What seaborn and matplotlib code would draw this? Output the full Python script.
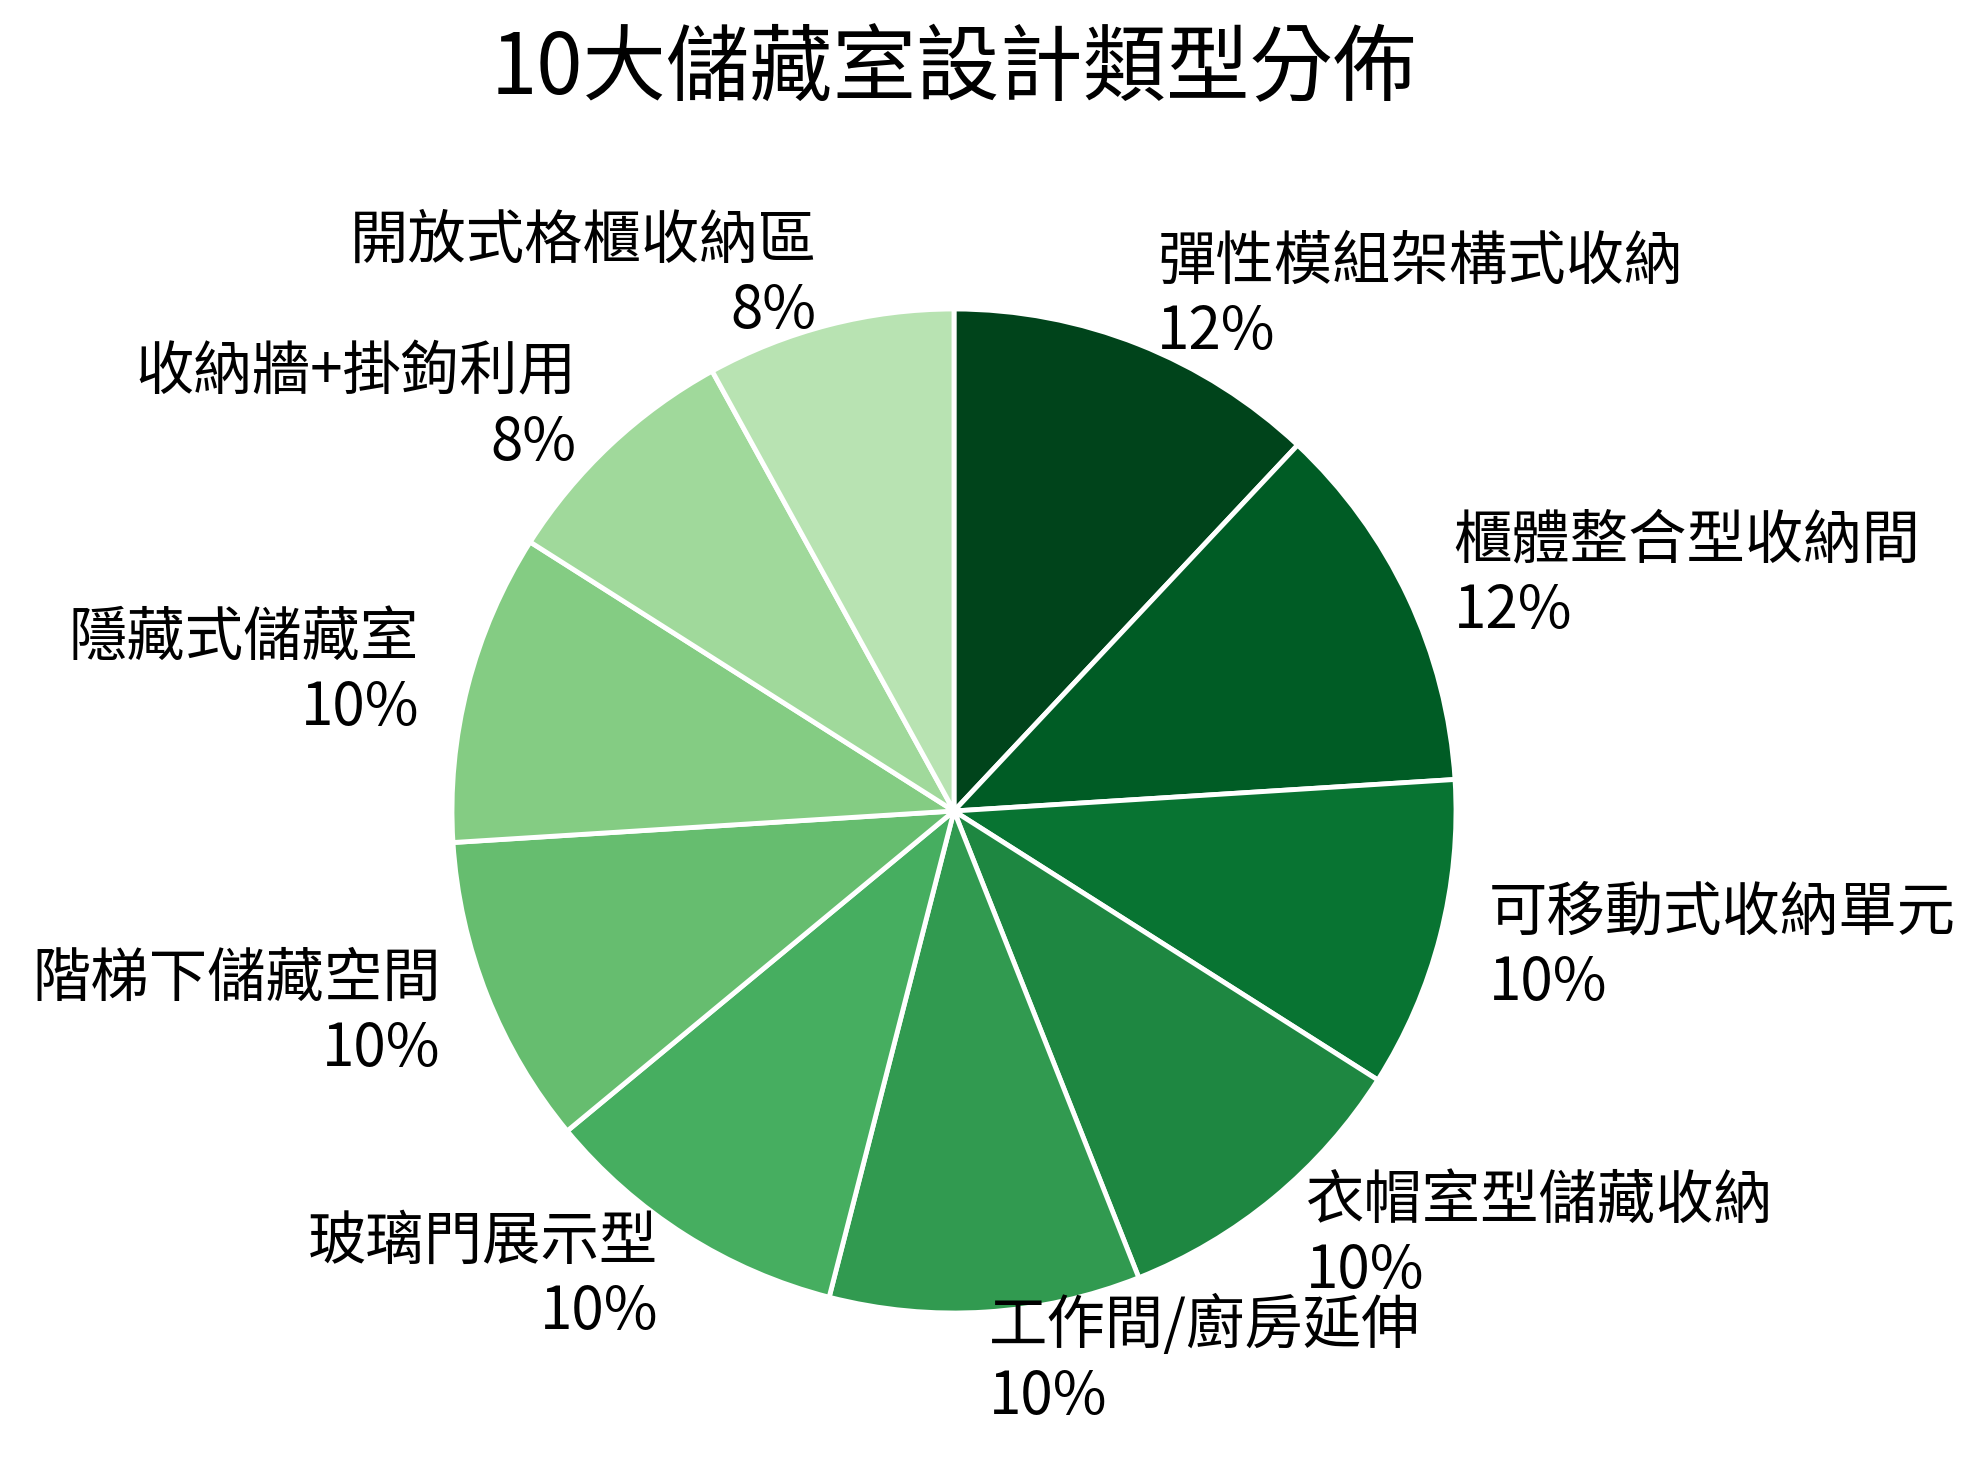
import matplotlib
matplotlib.use("Agg")
import matplotlib.pyplot as plt
import seaborn as sns
import numpy as np

sns.set_theme(style="white")
plt.rcParams['font.family'] = ['Noto Sans CJK TC', 'DejaVu Sans']

# 資料
categorias = [
    "彈性模組架構式收納",
    "櫃體整合型收納間",
    "可移動式收納單元",
    "衣帽室型儲藏收納",
    "工作間/廚房延伸",
    "玻璃門展示型",
    "階梯下儲藏空間",
    "隱藏式儲藏室",
    "收納牆+掛鉤利用",
    "開放式格櫃收納區",
]
porcentajes = [12, 12, 10, 10, 10, 10, 10, 10, 8, 8]
titulo = "10大儲藏室設計類型分佈"

etiquetas = [f"{c}\n{p}%" for c, p in zip(categorias, porcentajes)]
cmap = matplotlib.colormaps["Greens"]
colores = [cmap(v) for v in np.linspace(1.0, 0.3, len(porcentajes))]

W, H = 1986, 1468
fig = plt.figure(figsize=(W / 100, H / 100), dpi=100)

# posición del eje: centro (954, 811) px, radio 502 px
r = 502
cx, cy = 954, H - 811
xl, xr, yb, yt = -1.8, 1.8, -1.3, 1.4
ax = fig.add_axes([(cx + xl * r) / W, (cy + yb * r) / H, (xr - xl) * r / W, (yt - yb) * r / H])

wedges, textos = ax.pie(
    porcentajes,
    labels=etiquetas,
    colors=colores,
    startangle=90,
    counterclock=False,
    labeldistance=1.1,
    wedgeprops={'edgecolor': 'white', 'linewidth': 3.5},
    textprops={'fontsize': 42, 'color': 'black'},
)
for t in textos:
    t.set_multialignment(t.get_ha())
    t.set_linespacing(1.2)

ax.set_xlim(xl, xr)
ax.set_ylim(yb, yt)
ax.set_aspect('equal', adjustable='box')
ax.axis('off')

fig.text(cx / W, 1 - 70 / H, titulo, ha='center', va='center', fontsize=60, color='black')

fig.savefig("out.png", dpi=100)
